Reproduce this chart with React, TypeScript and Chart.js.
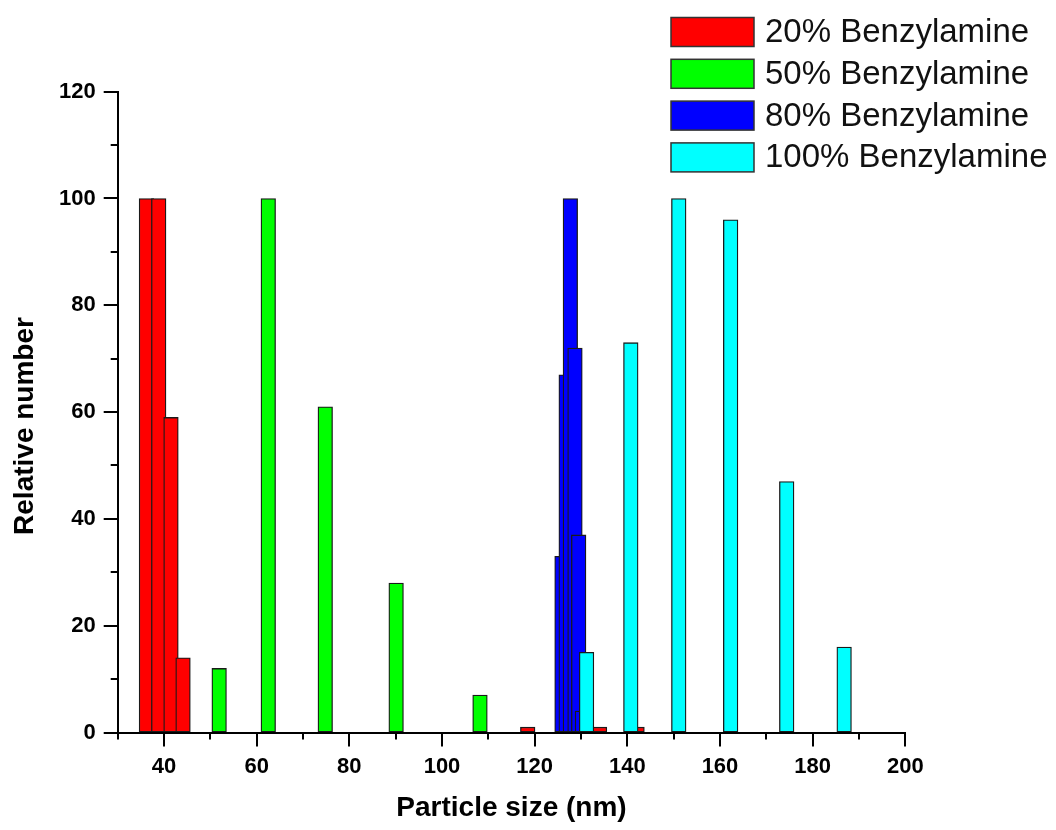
import React, { useEffect, useRef } from 'react';
import { Chart, registerables } from 'chart.js';

Chart.register(...registerables);

// ---- data ----
const seriesLabels = ['20% Benzylamine', '50% Benzylamine', '80% Benzylamine', '100% Benzylamine'];
const seriesColors = ['#FF0000', '#00FF00', '#0000FF', '#00FFFF'];

const sizes20 = [36.2, 38.85, 41.5, 44.1, 118.5, 134.0, 142.1];
const counts20 = [100, 100, 59, 14, 1, 1, 1];

const sizes50 = [51.9, 62.5, 74.8, 90.1, 108.2];
const counts50 = [12, 100, 61, 28, 7];

const sizes80 = [125.9, 126.8, 127.7, 128.7, 129.5, 130.3];
const counts80 = [33, 67, 100, 72, 37, 4];

const sizes100 = [131.2, 140.75, 151.1, 162.3, 174.4, 186.8];
const counts100 = [15, 73, 100, 96, 47, 16];

const xMin = 30;
const xMax = 200;
const xStep = 10;
const yMin = 0;
const yMax = 120;
const yStep = 10;
const labelEvery = 20;

const xTitle = 'Particle size (nm)';
const yTitle = 'Relative number';

const FONT = "'Liberation Sans', Arial, Helvetica, sans-serif";

const toPoints = (xs: number[], ys: number[]) => xs.map((x, i) => ({ x, y: ys[i] }));

const decorPlugin = {
  id: 'decor',
  afterDraw(chart: any) {
    const ctx = chart.ctx;
    const xs = chart.scales.x;
    const ys = chart.scales.y;
    const area = chart.chartArea;
    ctx.save();
    ctx.strokeStyle = '#000';
    ctx.lineWidth = 2;
    ctx.beginPath();
    xs.ticks.forEach((t: any) => {
      const px = Math.round(xs.getPixelForValue(t.value)) + 0;
      const len = t.value % labelEvery === 0 ? 14 : 7;
      ctx.moveTo(px, area.bottom);
      ctx.lineTo(px, area.bottom + len);
    });
    ys.ticks.forEach((t: any) => {
      const py = Math.round(ys.getPixelForValue(t.value));
      const len = t.value % labelEvery === 0 ? 14 : 7;
      ctx.moveTo(area.left, py);
      ctx.lineTo(area.left - len, py);
    });
    ctx.stroke();

    // y axis title
    ctx.save();
    ctx.translate(25, 426);
    ctx.rotate(-Math.PI / 2);
    ctx.fillStyle = '#000';
    ctx.font = `bold 28px ${FONT}`;
    ctx.textAlign = 'center';
    ctx.textBaseline = 'middle';
    ctx.fillText(yTitle, 0, 0);
    ctx.restore();

    // legend
    const boxX = 671;
    const boxY0 = 17.5;
    const rowGap = 41.8;
    const boxW = 83;
    const boxH = 29;
    chart.data.datasets.forEach((ds: any, i: number) => {
      const y = boxY0 + i * rowGap;
      ctx.fillStyle = ds.backgroundColor;
      ctx.fillRect(boxX, y, boxW, boxH);
      ctx.strokeStyle = '#333';
      ctx.lineWidth = 1.5;
      ctx.strokeRect(boxX, y, boxW, boxH);
      ctx.fillStyle = '#111';
      ctx.font = `33px ${FONT}`;
      ctx.textAlign = 'left';
      ctx.textBaseline = 'middle';
      ctx.fillText(ds.label, 765, y + boxH / 2 + 1);
    });
    ctx.restore();
  },
};

export default function App() {
  const canvasRef = useRef<HTMLCanvasElement | null>(null);

  useEffect(() => {
    document.body.style.margin = '0';
    const canvas = canvasRef.current;
    if (!canvas) return;
    const seriesX = [sizes20, sizes50, sizes80, sizes100];
    const seriesY = [counts20, counts50, counts80, counts100];
    const chart = new Chart(canvas, {
      type: 'bar',
      data: {
        datasets: seriesLabels.map((label, i) => ({
          label,
          data: toPoints(seriesX[i], seriesY[i]),
          backgroundColor: seriesColors[i],
          borderColor: '#1a1a1a',
          borderWidth: 1.3,
          borderSkipped: false,
          barThickness: 14.6,
          grouped: false,
          order: seriesLabels.length - i,
        })),
      },
      options: {
        responsive: false,
        animation: false,
        layout: { padding: { left: 0, top: 91.7, right: 1056 - 905.3, bottom: 0 } },
        plugins: {
          legend: { display: false },
          tooltip: { enabled: false },
        },
        scales: {
          x: {
            type: 'linear',
            min: xMin,
            max: xMax,
            offset: false,
            afterFit: (s: any) => { s.height = 830 - 732.5; },
            ticks: {
              stepSize: xStep,
              autoSkip: false,
              maxRotation: 0,
              padding: 7,
              color: '#000',
              font: { family: FONT, size: 22, weight: 'bold' },
              callback: (v: any) => (Number(v) % labelEvery === 0 ? String(v) : ''),
            },
            grid: { display: true, drawOnChartArea: false, drawTicks: true, tickLength: 14, color: 'rgba(0,0,0,0)' },
            border: { display: true, color: '#000', width: 2 },
            title: {
              display: true,
              text: xTitle,
              color: '#000',
              font: { family: FONT, size: 28, weight: 'bold' },
              padding: { top: 0, bottom: 5 },
            },
          },
          y: {
            type: 'linear',
            min: yMin,
            max: yMax,
            afterFit: (s: any) => { s.width = 117.7; },
            ticks: {
              stepSize: yStep,
              autoSkip: false,
              padding: 8,
              color: '#000',
              font: { family: FONT, size: 22, weight: 'bold' },
              callback: (v: any) => (Number(v) % labelEvery === 0 ? String(v) : ''),
            },
            grid: { display: true, drawOnChartArea: false, drawTicks: true, tickLength: 14, color: 'rgba(0,0,0,0)' },
            border: { display: true, color: '#000', width: 2 },
          },
        },
      },
      plugins: [decorPlugin],
    } as any);
    return () => chart.destroy();
  }, []);

  return (
    <div style={{ width: 1056, height: 830, background: '#fff' }}>
      <canvas ref={canvasRef} width={1056} height={830} style={{ display: 'block' }} />
    </div>
  );
}
